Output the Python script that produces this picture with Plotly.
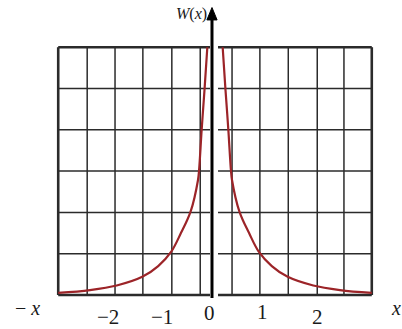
import plotly.graph_objects as go

# Density W(x): distance from the centre and value, read for one branch (symmetric)
dist = [0.135, 0.185, 0.235, 0.28, 0.30, 0.43, 0.60, 0.77, 1.00, 1.28, 1.73, 2.20, 2.76]
w_vals = [6.0, 4.96, 4.0, 3.03, 2.78, 2.02, 1.5, 1.05, 0.70, 0.44, 0.23, 0.12, 0.05]

# Grid columns (x) and rows (y)
grid_x = [-2.76, -2.25, -1.76, -1.27, -0.76, -0.26, 0.30, 0.79, 1.29, 1.80, 2.27, 2.76]
grid_y = [0, 1, 2, 3, 4, 5, 6]

# Tick labels along the bottom: (text, x, y)
tick_labels = [("\u2212 <i>x</i>", -3.30, -0.32), ("\u22122", -1.88, -0.53), ("\u22121", -0.93, -0.53),
               ("0", -0.10, -0.43), ("1", 0.84, -0.42), ("2", 1.81, -0.53), ("<i>x</i>", 3.19, -0.32)]

AXIS_X = -0.053
GAP_L, GAP_R = -0.088, 0.053
X_RANGE = [-3.785, 3.292]
Y_RANGE = [-0.823, 7.143]

fig = go.Figure()

red = "#9c2428"
for sign in (-1, 1):
    fig.add_trace(go.Scatter(x=[sign * d for d in dist], y=w_vals, mode="lines",
                             line=dict(color=red, width=2.2, shape="spline", smoothing=1.0),
                             hoverinfo="skip"))

shapes = []
grid_col = "#2b2b2b"
for i, gx in enumerate(grid_x):
    edge = i in (0, len(grid_x) - 1)
    shapes.append(dict(type="line", x0=gx, x1=gx, y0=grid_y[0], y1=grid_y[-1],
                       line=dict(color=grid_col, width=2.6 if edge else 1.5), layer="below"))
for j, gy in enumerate(grid_y):
    edge = j in (0, len(grid_y) - 1)
    wdt = 2.4 if edge else 1.5
    shapes.append(dict(type="line", x0=grid_x[0], x1=GAP_L, y0=gy, y1=gy,
                       line=dict(color=grid_col, width=wdt), layer="below"))
    shapes.append(dict(type="line", x0=GAP_R, x1=grid_x[-1], y0=gy, y1=gy,
                       line=dict(color=grid_col, width=wdt), layer="below"))

# Vertical W axis with arrowhead
shapes.append(dict(type="line", x0=AXIS_X, x1=AXIS_X, y0=-0.07, y1=6.75,
                   line=dict(color="black", width=3)))
shapes.append(dict(type="path",
                   path=f"M {AXIS_X - 0.09} 6.66 L {AXIS_X + 0.09} 6.66 L {AXIS_X} 6.96 Z",
                   fillcolor="black", line=dict(color="black", width=1)))

annotations = []
serif = "Liberation Serif"
for text, tx, ty in tick_labels:
    annotations.append(dict(x=tx, y=ty, text=text, showarrow=False,
                            font=dict(family=serif, size=20 if "x" in text else 21, color="#1a1a1a"),
                            xanchor="center", yanchor="middle"))
annotations.append(dict(x=-0.42, y=6.8, text="<i>W</i>(<i>x</i>)", showarrow=False,
                        font=dict(family=serif, size=16, color="#1a1a1a"),
                        xanchor="center", yanchor="middle"))

fig.update_layout(
    width=402, height=329,
    margin=dict(l=0, r=0, t=0, b=0),
    paper_bgcolor="white", plot_bgcolor="white",
    showlegend=False,
    xaxis=dict(range=X_RANGE, visible=False, fixedrange=True),
    yaxis=dict(range=Y_RANGE, visible=False, fixedrange=True),
    shapes=shapes,
    annotations=annotations,
)

fig.write_html("out.html")
